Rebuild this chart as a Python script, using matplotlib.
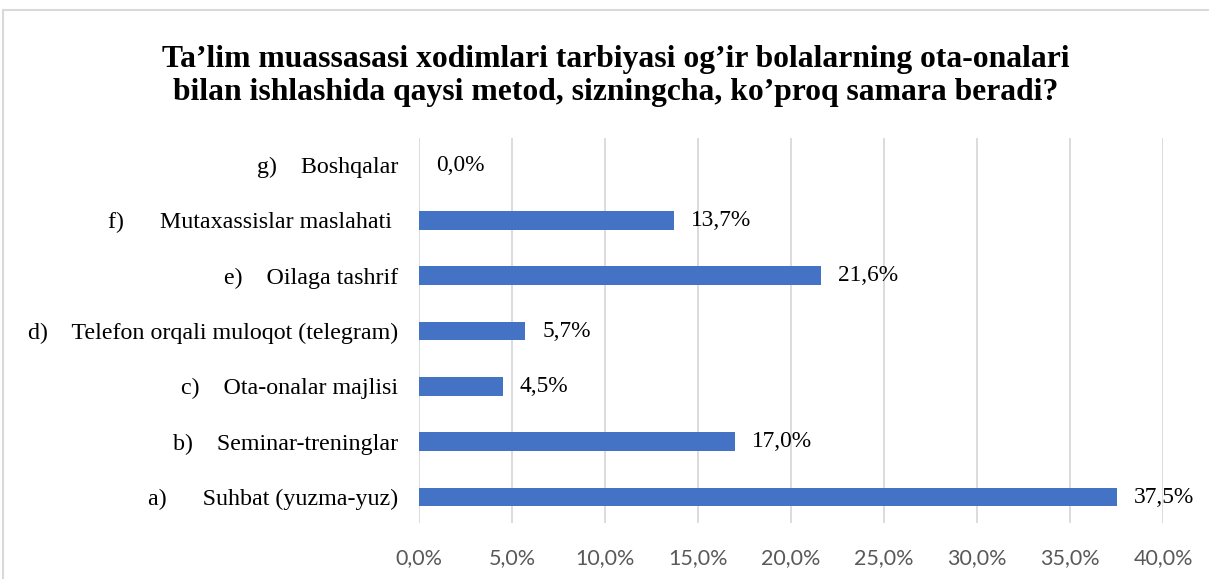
import matplotlib
matplotlib.use("Agg")
import matplotlib.pyplot as plt
from matplotlib.patches import Rectangle
from matplotlib.ticker import FuncFormatter, MultipleLocator

letters = ["a)", "b)", "c)", "d)", "e)", "f)", "g)"]
categories = ["Suhbat (yuzma-yuz)", "Seminar-treninglar", "Ota-onalar majlisi",
              "Telefon orqali muloqot (telegram)", "Oilaga tashrif",
              "Mutaxassislar maslahati ", "Boshqalar"]
values = [37.5, 17.0, 4.5, 5.7, 21.6, 13.7, 0.0]
title = "Ta\u2019lim muassasasi xodimlari tarbiyasi og\u2019ir bolalarning ota-onalari\nbilan ishlashida qaysi metod, sizningcha, ko\u2019proq samara beradi?"

serif = "Liberation Serif"
fig = plt.figure(figsize=(12.09, 5.79), dpi=100)
ax = fig.add_axes([419/1209, 1-523/579, (1163-419)/1209, 385/579])

y = list(range(len(values)))
ax.barh(y, values, height=0.34, color="#4472C4", zorder=3)
ax.set_xlim(0, 40)
ax.set_ylim(-0.47, 6.49)
ax.xaxis.set_major_locator(MultipleLocator(5))
ax.xaxis.set_major_formatter(FuncFormatter(lambda v, p: f"{v:.1f}%".replace(".", ",")))
ax.grid(axis="x", color="#D9D9D9", linewidth=1.3, zorder=0)
for s in ax.spines.values():
    s.set_visible(False)
ax.tick_params(axis="x", length=0, pad=18, labelsize=15.5, labelcolor="#595959")
for t in ax.get_xticklabels():
    t.set_fontfamily("Lato")
ax.set_yticks(y)
seps = {"a)": "      ", "f)": "      "}
ax.set_yticklabels([f"{l}{seps.get(l, '    ')}{c}" for l, c in zip(letters, categories)],
                   fontfamily=serif, fontsize=17.3)
ax.tick_params(axis="y", length=0, pad=15)

for yi, v in zip(y, values):
    ax.text(v + 0.92, yi, f"{v:.1f}%".replace(".", ","), va="center", ha="left",
            fontfamily=serif, fontsize=16.8, color="#000000")

fig.text(0.509, 1-76/579, title, ha="center", va="center", fontfamily=serif,
         fontweight="bold", fontsize=22.8, linespacing=1.22)

fig.patches.append(Rectangle((3/1209, -0.05), 1.1, 1-10/579+0.05,
                             transform=fig.transFigure, fill=False,
                             edgecolor="#D9D9D9", linewidth=1.5))
fig.savefig("out.png", dpi=100)
